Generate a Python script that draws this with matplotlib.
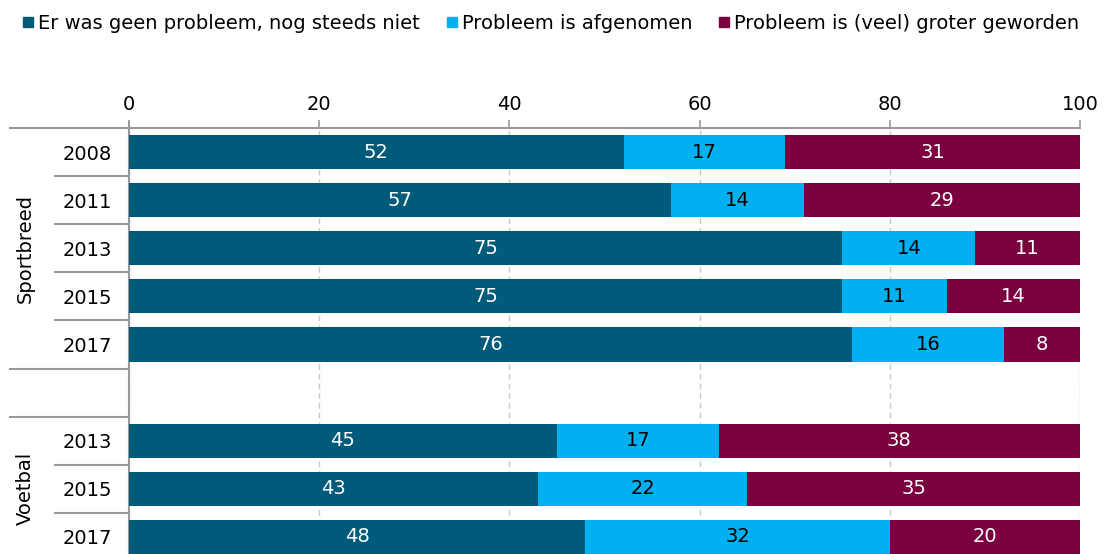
import numpy as np
import matplotlib
matplotlib.use("Agg")
import matplotlib.pyplot as plt
from matplotlib.lines import Line2D
import matplotlib.transforms as mtransforms

C_NONE = "#005a7a"
C_LESS = "#00b0f0"
C_MORE = "#7b003f"

series_names = ["Er was geen probleem, nog steeds niet",
                "Probleem is afgenomen",
                "Probleem is (veel) groter geworden"]

sport_years = ["2008", "2011", "2013", "2015", "2017"]
sport_none = [52, 57, 75, 75, 76]
sport_less = [17, 14, 14, 11, 16]
sport_more = [31, 29, 11, 14, 8]

voet_years = ["2013", "2015", "2017"]
voet_none = [45, 43, 48]
voet_less = [17, 22, 32]
voet_more = [38, 35, 20]

groups = ["Sportbreed", "Voetbal"]

# rows: sportbreed, one blank row, voetbal
labels = sport_years + [""] + voet_years
none = np.array(sport_none + [0] + voet_none, dtype=float)
less = np.array(sport_less + [0] + voet_less, dtype=float)
more = np.array(sport_more + [0] + voet_more, dtype=float)
blank = len(sport_years)
rows = [i for i in range(len(labels)) if i != blank]
y = np.arange(len(labels))

FS = 14

fig = plt.figure(figsize=(11.06, 5.54), dpi=100)
ax = fig.add_axes([129 / 1106, 0.0, 951 / 1106, 1 - 128 / 554])

H = 0.71
for vals, left, col, tc in [(none, np.zeros(len(labels)), C_NONE, "white"),
                            (less, none, C_LESS, "black"),
                            (more, none + less, C_MORE, "white")]:
    bars = ax.barh(y[rows], vals[rows], left=left[rows],
                   height=H, color=col, zorder=3)
    for b, v in zip(bars, vals[rows]):
        ax.text(b.get_x() + b.get_width() / 2, b.get_y() + b.get_height() / 2,
                f"{int(v)}", ha="center", va="center", color=tc, fontsize=FS,
                zorder=4)

ax.set_xlim(0, 100)
ax.set_ylim(len(labels) - 1 + 0.354, -0.5)
ax.xaxis.tick_top()
ax.set_xticks(np.arange(0, 101, 20))
ax.tick_params(axis="x", length=6, width=1.2, color="#999999", labelsize=FS, pad=4)
ax.set_yticks(y)
ax.set_yticklabels(labels, fontsize=FS)
ax.tick_params(axis="y", length=0, pad=12)
ax.grid(axis="x", color="#c8c8c8", linestyle=(0, (4, 3)), lw=1, zorder=0)
for s in ["right", "bottom"]:
    ax.spines[s].set_visible(False)
for s in ["top", "left"]:
    ax.spines[s].set_color("#999999")
    ax.spines[s].set_linewidth(1.5)
ax.spines["left"].set_bounds(len(labels), -0.62)

# category separators on the left
tr = mtransforms.blended_transform_factory(ax.transAxes, ax.transData)
x_outer = (10 - 129) / 951
x_inner = (55 - 129) / 951
n_s = len(sport_years)
n_v = len(voet_years)
seps = [(-0.5, x_outer), (n_s - 0.5, x_outer), (n_s + 0.5, x_outer)]
seps += [(i + 0.5, x_inner) for i in range(n_s - 1)]
seps += [(n_s + 1 + i + 0.5, x_inner) for i in range(n_v - 1)]
for yy, x0 in seps:
    ax.add_line(Line2D([x0, 0], [yy, yy], transform=tr, color="#999999",
                       lw=1.5, clip_on=False))

x_grp = (25 - 129) / 951
ax.text(x_grp, (n_s - 1) / 2, groups[0], transform=tr, rotation=90,
        ha="center", va="center", fontsize=FS)
ax.text(x_grp, n_s + 1 + (n_v - 1) / 2, groups[1], transform=tr, rotation=90,
        ha="center", va="center", fontsize=FS)

handles = [Line2D([], [], marker="s", ls="none", color=c, markersize=7.5)
           for c in [C_NONE, C_LESS, C_MORE]]
fig.legend(handles, series_names, loc="upper left", bbox_to_anchor=(0.008, 1.0),
           ncol=3, frameon=False, fontsize=FS, handlelength=0.6,
           handletextpad=0.2, columnspacing=1.35, borderaxespad=0.3)

fig.savefig("out.png", dpi=100, facecolor="white")
